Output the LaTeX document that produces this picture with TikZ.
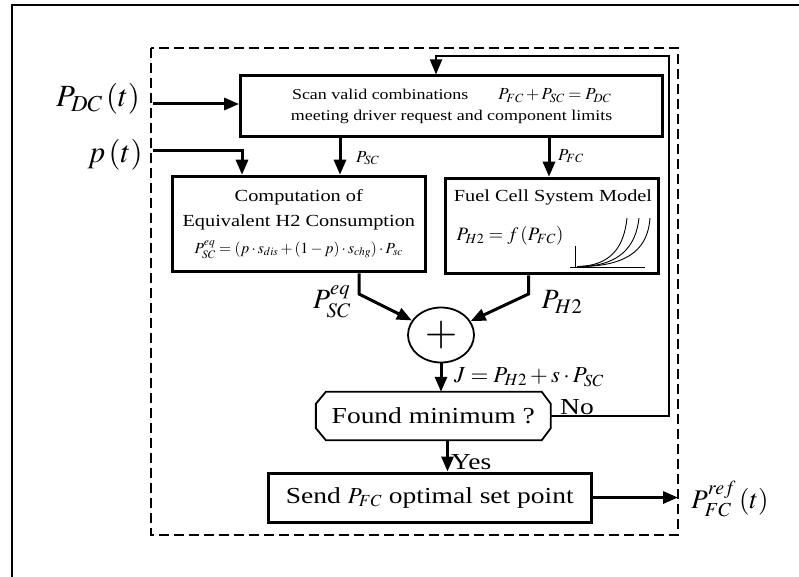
\documentclass[tikz,border=0pt]{standalone}
\usepackage{mathptmx}
\usepackage[no-math]{fontspec}
\setmainfont[FakeStretch=1.2]{Liberation Serif}
\usetikzlibrary{arrows.meta,shapes.geometric}

\begin{document}
\begin{tikzpicture}[x=1bp,y=-1bp,
  box/.style={draw, line width=3bp, inner sep=0pt, align=center},
  arr/.style={line width=3bp, -{Triangle[length=15bp,width=12bp]}},
  fb/.style={line width=1.8bp, -{Triangle[length=15bp,width=12bp]}},
  lbl/.style={inner sep=0pt},
  big/.style={font=\fontsize{31}{34}\selectfont},
  mid/.style={font=\fontsize{23}{26}\selectfont},
  sml/.style={font=\fontsize{17}{25}\selectfont}]
\useasboundingbox (0,0) rectangle (799,577);
\draw[line width=1.5bp] (12,577) -- (12,5) -- (799,5);
\draw[line width=1.6bp, dash pattern=on 10bp off 5bp] (151,48) rectangle (678,535);
\node[box, minimum width=422bp, minimum height=61bp, font=\fontsize{15}{21}\selectfont] (scan) at (451.6,106.5)
  {Scan valid combinations\qquad {\fontsize{17}{21}\selectfont$P_{FC}+P_{SC}=P_{DC}$}\\meeting driver request and component limits};
\node[box, minimum width=253.6bp, minimum height=95.5bp, sml] (comp) at (298.8,224)
  {Computation of\\Equivalent H2 Consumption\\[2bp]
  {\fontsize{15.5}{17}\selectfont$P_{SC}^{eq}=(p\cdot s_{dis}+(1-p)\cdot s_{chg})\cdot P_{sc}$}};
\node[box, minimum width=212.5bp, minimum height=95.5bp] (fcm) at (552.2,226) {};
\node[lbl, sml] (fctitle) at (553,197) {Fuel Cell System Model};
\node[lbl, font=\fontsize{19}{21}\selectfont] (fcf) at (510,236) {$P_{H2}=f\left(P_{FC}\right)$};
\draw[line width=0.9bp] (575.7,246) -- (575.7,267.3) (570,267.3) -- (645,267.3);
\draw[line width=0.9bp] (577,266.5) .. controls (612,266) and (624,246) .. (627,218);
\draw[line width=0.9bp] (580,266.5) .. controls (620,266) and (636,246) .. (639,218);
\draw[line width=0.9bp] (584,266.5) .. controls (632,265) and (648,246) .. (650,218);
\node[ellipse, draw, line width=1.8bp, minimum width=66bp, minimum height=55bp, inner sep=0pt,
  font=\fontsize{42}{42}\selectfont] (sum) at (441,335) {$+$};
\node[minimum width=234.5bp, minimum height=48bp, inner sep=0pt, font=\fontsize{23}{26}\selectfont] (found) at (433.3,416)
  {Found minimum ?};
\draw[line width=1.8bp] ([xshift=10bp]found.north west) -- ([xshift=-9bp]found.north east)
  -- ([yshift=-12bp]found.north east) -- ([yshift=12bp]found.south east)
  -- ([xshift=-9bp]found.south east) -- ([xshift=10bp]found.south west)
  -- ([yshift=12bp]found.south west) -- ([yshift=-12bp]found.north west) -- cycle;
\node[box, minimum width=322.4bp, minimum height=49bp, font=\fontsize{23}{26}\selectfont] (send) at (429.8,497.5)
  {Send $P_{FC}$ optimal set point};
\node[lbl, big] (pdc) at (98,99) {$P_{DC}\left(t\right)$};
\node[lbl, big] (pt) at (115,155) {$p\left(t\right)$};
\node[lbl, sml, anchor=west] (psc) at (356,158) {$P_{SC}$};
\node[lbl, sml, anchor=west] (pfc) at (558,156) {$P_{FC}$};
\node[lbl, font=\fontsize{28}{30}\selectfont] (psceq) at (332,302) {$P_{SC}^{eq}$};
\node[lbl, font=\fontsize{28}{30}\selectfont] (ph2) at (562,302) {$P_{H2}$};
\node[lbl, mid, anchor=west] (jval) at (454,377) {$J=P_{H2}+s\cdot P_{SC}$};
\node[lbl, mid] (no) at (577,407) {No};
\node[lbl, mid, anchor=west] (yes) at (451,462) {Yes};
\node[lbl, font=\fontsize{27}{30}\selectfont] (pref) at (730,499) {$P_{FC}^{ref}\left(t\right)$};
\coordinate (pdcin) at (153,104);
\coordinate (pin) at (153,151);
\coordinate (pinx) at (242,151);
\coordinate (scx) at (340,0);
\coordinate (fcx) at (549,0);
\coordinate (eqb) at (359,294);
\coordinate (h2b) at (528.5,294);
\coordinate (yesx) at (447.5,0);
\coordinate (fbr) at (669,56);
\coordinate (fbl) at (436,56);
\coordinate (refin) at (678,497.5);
\draw[arr] (pdcin) -- (pdcin -| scan.west);
\draw[arr] (pin) -- (pinx) -- (pinx |- comp.north);
\draw[arr] (scan.south -| scx) -- (comp.north -| scx);
\draw[arr] (scan.south -| fcx) -- (fcm.north -| fcx);
\draw[arr] (comp.south -| eqb) -- (eqb) -- (sum);
\draw[arr] (fcm.south -| h2b) -- (h2b) -- (sum);
\draw[arr] (sum) -- (sum |- found.north);
\draw[arr] (found.south -| yesx) -- (send.north -| yesx);
\draw[fb] (found.east) -| (fbr) -- (fbl) -- (fbl |- scan.north);
\draw[arr] (send.east) -- (refin);
\end{tikzpicture}
\end{document}
